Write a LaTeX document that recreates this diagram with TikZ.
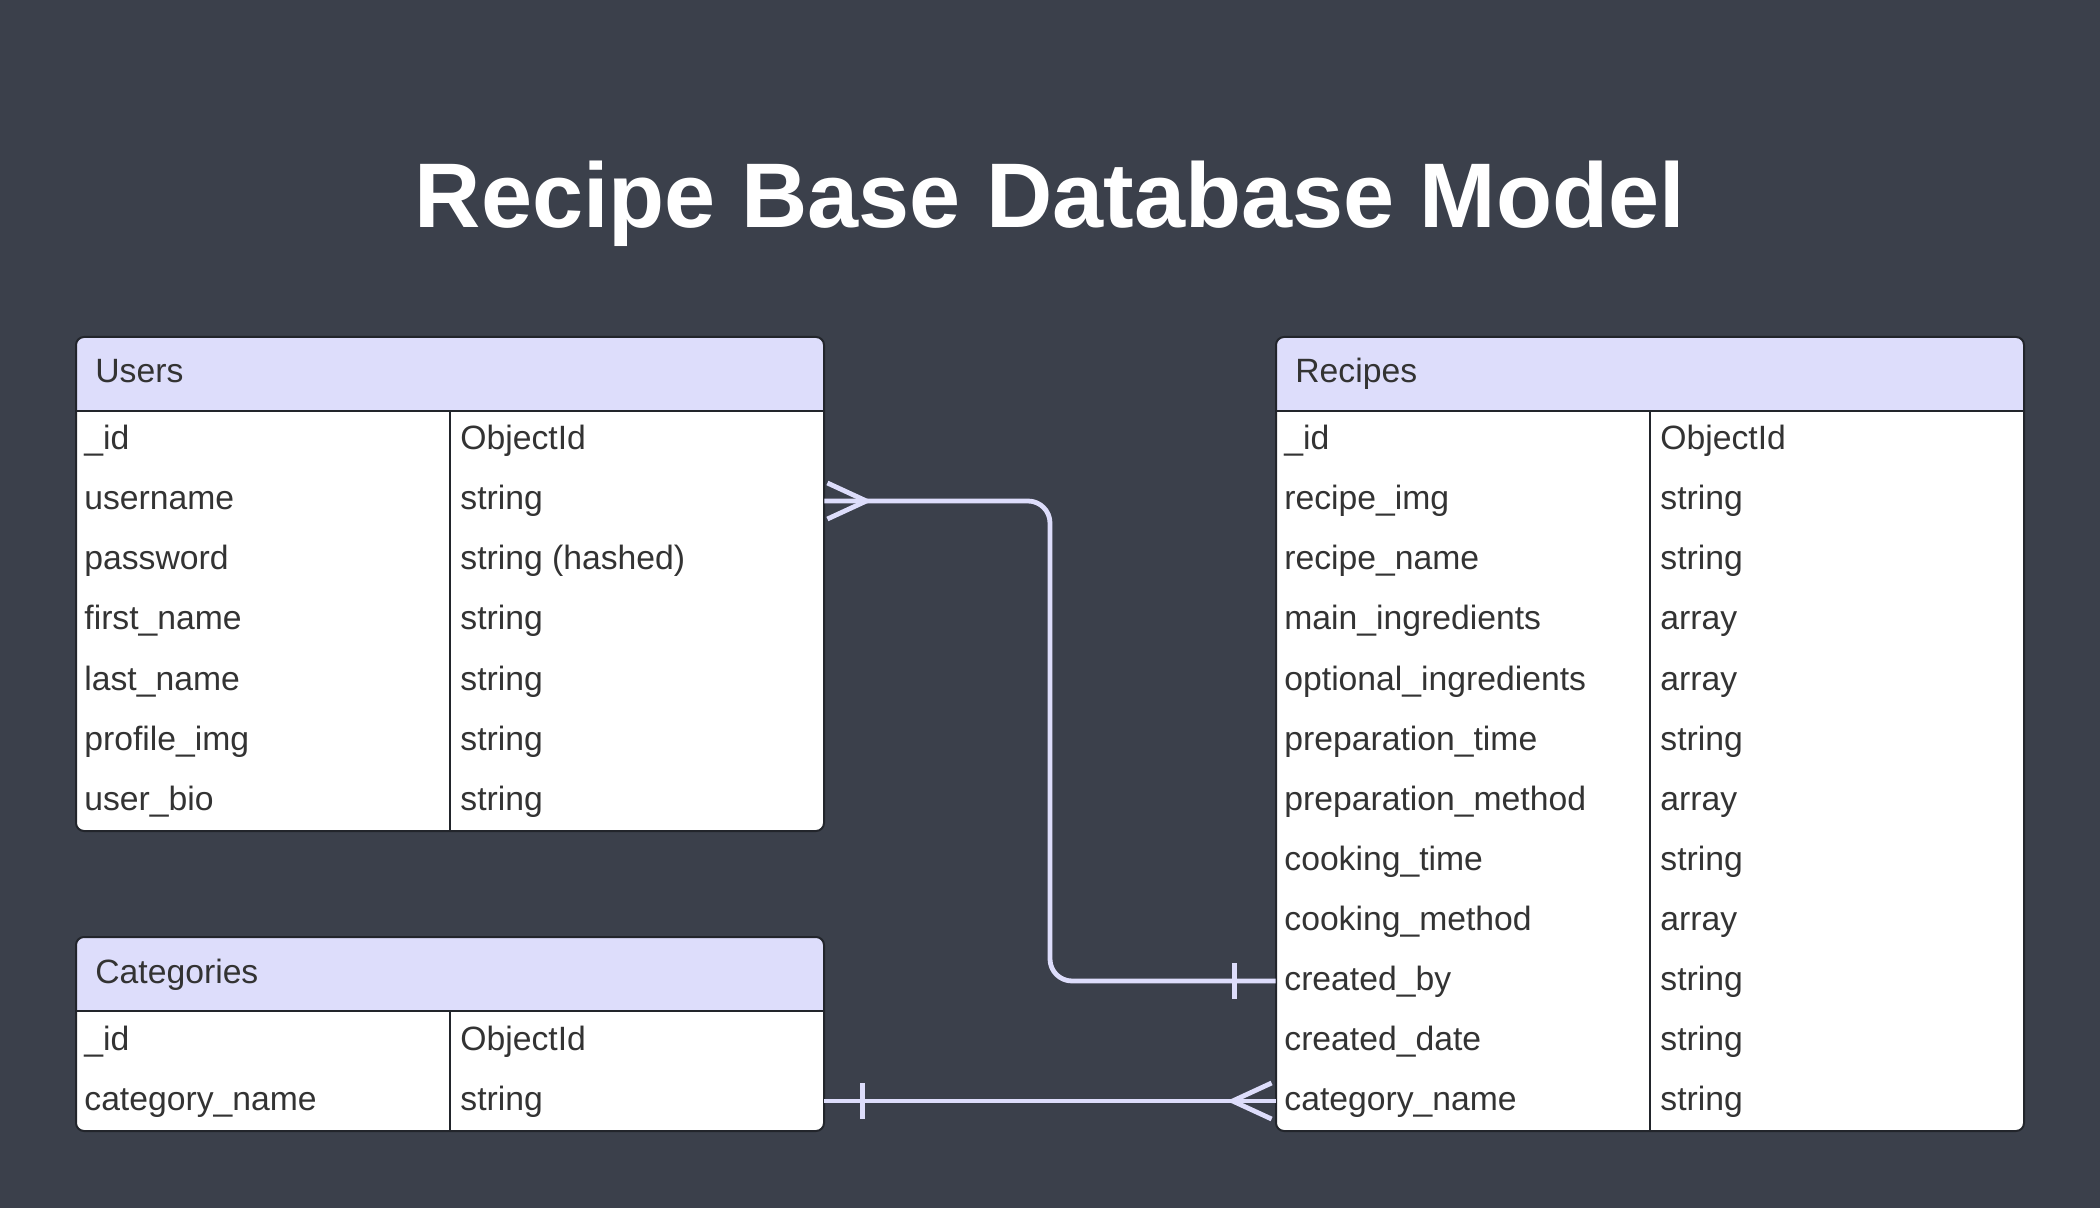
\documentclass[tikz,border=0pt]{standalone}
\usepackage{fontspec}
\setmainfont{Liberation Sans}
\usetikzlibrary{calc}
\definecolor{bg}{RGB}{59,64,75}
\definecolor{hdr}{RGB}{221,221,251}
\definecolor{edgec}{RGB}{34,37,43}
\definecolor{txt}{RGB}{51,51,51}
\definecolor{linkc}{RGB}{221,221,251}
\tikzset{
  rowbox/.style={draw=none, inner sep=0pt, minimum width=374pt, minimum height=30pt},
  celltxt/.style={anchor=base west, inner sep=0pt, text=txt, font=\fontsize{16.85pt}{20pt}\selectfont},
  hdrtxt/.style={anchor=base west, inner sep=0pt, text=txt, font=\fontsize{16.85pt}{20pt}\selectfont},
  tableline/.style={draw=edgec, line width=1pt},
  link/.style={draw=linkc, line width=2.4pt},
}
% #1 name, #2 left, #3 top, #4 title, #5 number of rows, #6 rows
\newcommand\erdtable[6]{%
  \pgfmathsetmacro\tabR{#2+748}%
  \pgfmathsetmacro\tabB{#3+74+60*#5}%
  \pgfmathsetmacro\tabD{#2+374}%
  \pgfmathsetmacro\tabH{#3+74}%
  \fill[white, rounded corners=4pt] (#2,#3) rectangle (\tabR,\tabB);
  \begin{scope}
    \clip[rounded corners=4pt] (#2,#3) rectangle (\tabR,\tabB);
    \fill[hdr] (#2,#3) rectangle (\tabR,\tabH);
  \end{scope}
  \node[hdrtxt] (#1-title) at (#2+19,#3+46) {#4};
  \foreach \ka/\kb [count=\ki] in {#6} {
    \node[rowbox] (#1-\ki) at (#2+374,#3+74+60*\ki-30) {};
    \node[celltxt] (#1-\ki-k) at (#2+8,#3+74+60*\ki-21) {\ka};
    \node[celltxt] (#1-\ki-t) at (#2+384,#3+74+60*\ki-21) {\kb};
  }
  \draw[tableline] (#2,\tabH) -- (\tabR,\tabH);
  \draw[tableline] (\tabD,\tabH) -- (\tabD,\tabB);
  \draw[tableline, rounded corners=4pt] (#2,#3) rectangle (\tabR,\tabB);
}
\begin{document}
\begin{tikzpicture}[x=0.5pt, y=-0.5pt]
  \useasboundingbox (0,0) rectangle (2100,1208);
  \fill[bg] (0,0) rectangle (2100,1208);

  \node[anchor=base, inner sep=0pt, text=white, font=\bfseries\fontsize{45.9pt}{50pt}\selectfont] (title) at (1050,228) {Recipe Base Database Model};

  \erdtable{users}{76}{337}{Users}{7}{\_id/ObjectId, username/string, password/string (hashed), first\_name/string, last\_name/string, profile\_img/string, user\_bio/string}
  \erdtable{cats}{76}{937}{Categories}{2}{\_id/ObjectId, category\_name/string}
  \erdtable{recipes}{1276}{337}{Recipes}{12}{\_id/ObjectId, recipe\_img/string, recipe\_name/string, main\_ingredients/array, optional\_ingredients/array, preparation\_time/string, preparation\_method/array, cooking\_time/string, cooking\_method/array, created\_by/string, created\_date/string, category\_name/string}

  % Users (many) -- Recipes.created_by (one)
  \coordinate (bend) at (1050,0);
  \draw[link, rounded corners=11pt] (users-2.east) -- (users-2.east -| bend) -- (bend |- recipes-10.west) -- (recipes-10.west);
  \draw[link] ($(users-2.east)+(3,-18)$) -- ($(users-2.east)+(42,0)$) -- ($(users-2.east)+(3,18)$);
  \draw[link] ($(recipes-10.west)+(-41,-18)$) -- ($(recipes-10.west)+(-41,18)$);

  % Categories (one) -- Recipes.category_name (many)
  \draw[link] (cats-2.east) -- (recipes-12.west);
  \draw[link] ($(cats-2.east)+(38,-18)$) -- ($(cats-2.east)+(38,18)$);
  \draw[link] ($(recipes-12.west)+(-4,-18)$) -- ($(recipes-12.west)+(-43,0)$) -- ($(recipes-12.west)+(-4,18)$);
\end{tikzpicture}
\end{document}
